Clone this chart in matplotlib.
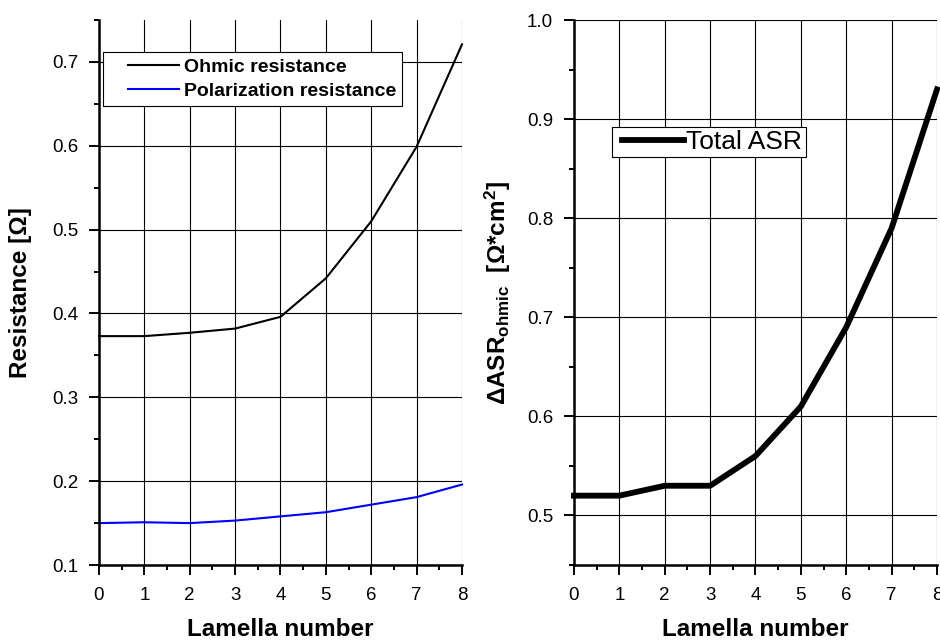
import numpy as np
import matplotlib
matplotlib.use("Agg")
import matplotlib.pyplot as plt
from matplotlib.ticker import MultipleLocator
from matplotlib.legend_handler import HandlerLine2D

plt.rcParams['font.family'] = ['Liberation Sans', 'DejaVu Sans']
plt.rcParams['mathtext.fontset'] = 'custom'
plt.rcParams['mathtext.rm'] = 'Liberation Sans'
plt.rcParams['mathtext.bf'] = 'Liberation Sans:bold'

# data
lamella = [0, 1, 2, 3, 4, 5, 6, 7, 8]
ohmic_res = [0.373, 0.373, 0.377, 0.382, 0.396, 0.442, 0.510, 0.599, 0.721]
polar_res = [0.150, 0.151, 0.150, 0.153, 0.158, 0.163, 0.172, 0.181, 0.196]
total_asr = [0.52, 0.52, 0.53, 0.53, 0.56, 0.61, 0.69, 0.79, 0.93]


class InsetLine(HandlerLine2D):
    # legend line that starts a bit right of the handle box (like the origin file)
    def __init__(self, frac=0.28, **kw):
        super().__init__(**kw)
        self.frac = frac

    def create_artists(self, legend, orig_handle, xdescent, ydescent, width, height, fontsize, trans):
        shift = width * self.frac
        return super().create_artists(legend, orig_handle, xdescent - shift, ydescent,
                                      width - shift, height, fontsize, trans)


def style_axes(ax, ymin, ymax):
    ax.set_xlim(0, 8)
    ax.set_ylim(ymin, ymax)
    ax.xaxis.set_major_locator(MultipleLocator(1))
    ax.xaxis.set_minor_locator(MultipleLocator(0.5))
    ax.yaxis.set_major_locator(MultipleLocator(0.1))
    ax.yaxis.set_minor_locator(MultipleLocator(0.05))
    ax.spines['top'].set_visible(False)
    ax.spines['right'].set_visible(False)
    ax.spines['left'].set_linewidth(1.8)
    ax.spines['bottom'].set_linewidth(1.8)
    ax.tick_params(which='major', direction='out', length=7, width=1.4, labelsize=13.5)
    ax.tick_params(which='minor', direction='out', length=3.6, width=1.4)
    ax.tick_params(axis='x', which='major', pad=9)
    ax.tick_params(axis='y', which='major', pad=8)
    ax.grid(True, which='major', color='black', linewidth=0.8)
    ax.set_axisbelow(True)
    ax.set_xlabel("Lamella number", fontsize=17.5, fontweight='bold', labelpad=10)


fig = plt.figure(figsize=(9.4, 6.42), dpi=100)

# left: resistances
ax1 = fig.add_axes([0.1053, 0.1199, 0.3862, 0.8489])
ax1.plot(lamella, ohmic_res, color='black', lw=1.5, label="Ohmic resistance", clip_on=False)
ax1.plot(lamella, polar_res, color='#0000ff', lw=1.5, label="Polarization resistance", clip_on=False)
style_axes(ax1, 0.1, 0.75)
ax1.yaxis.set_major_formatter(plt.FuncFormatter(lambda v, p: f"{v:.1f}" if v < 0.74 else ""))
ax1.set_ylabel("Resistance [Ω]", fontsize=17.5, fontweight='bold', labelpad=14)
leg1 = ax1.legend(loc='upper left', bbox_to_anchor=(0.011, 0.941), fancybox=False, framealpha=1,
                  edgecolor='black', prop={'weight': 'bold', 'size': 14}, handlelength=3.6,
                  borderpad=0.3, labelspacing=0.35, handletextpad=0.25, borderaxespad=0,
                  handler_map={plt.Line2D: InsetLine(0.28)})
leg1.get_frame().set_linewidth(0.8)

# right: total ASR
ax2 = fig.add_axes([0.6106, 0.1199, 0.3862, 0.8489])
ax2.plot(lamella, total_asr, color='black', lw=4.2, label="Total ASR", clip_on=False)
style_axes(ax2, 0.45, 1.0)
ax2.yaxis.set_major_formatter(plt.FuncFormatter(lambda v, p: f"{v:.1f}" if v > 0.46 else ""))
ax2.set_ylabel(r"$\mathbf{\Delta ASR_{ohmic}}$  $\mathbf{[\Omega{*}cm^2]}$", fontsize=17.5, labelpad=10)
leg2 = ax2.legend(loc='upper left', bbox_to_anchor=(0.105, 0.804), fancybox=False, framealpha=1,
                  edgecolor='black', prop={'size': 19}, handlelength=2.6,
                  borderpad=0.12, handletextpad=0.1, borderaxespad=0,
                  handler_map={plt.Line2D: InsetLine(0.1)})
leg2.get_frame().set_linewidth(0.8)

fig.savefig("out.png", dpi=100)
